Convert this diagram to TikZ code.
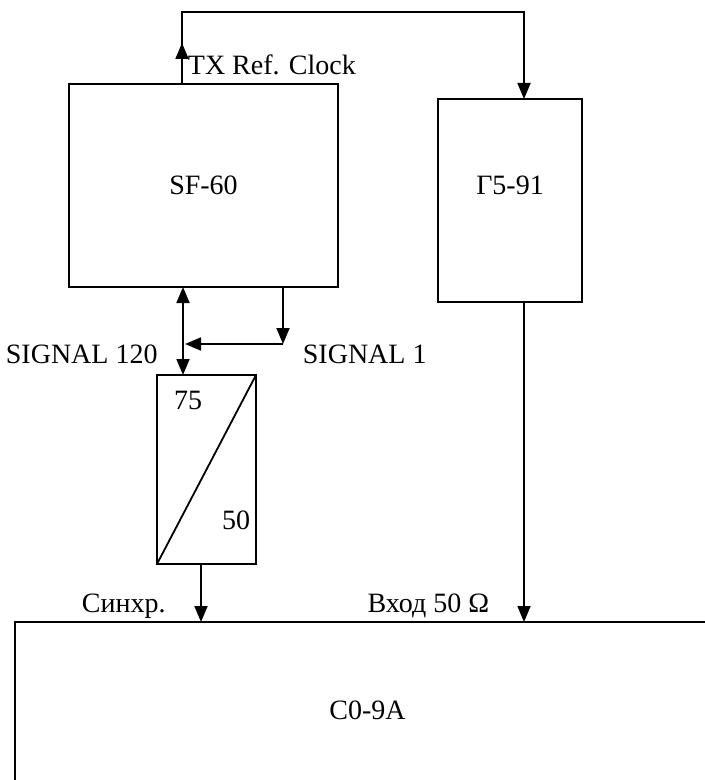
\documentclass[tikz,border=0pt]{standalone}
\usepackage{fontspec}
\setmainfont{Liberation Serif}
\usetikzlibrary{arrows.meta}
\begin{document}
\begin{tikzpicture}[x=0.5pt,y=-0.5pt,line width=0.9pt,
        font=\fontsize{14}{16}\selectfont,
        box/.style={draw,inner sep=0pt,outer sep=0pt},
        txt/.style={inner sep=0pt},
        tri/.style={-{Triangle[length=8pt,width=6.5pt]}}]
        \clip (0,0) rectangle (705,780);
        % devices
        \node[box,minimum width=134.5pt,minimum height=101.5pt] (sf) at (203.5,185.5) {SF-60};
        \node[box,minimum width=72pt,minimum height=101.5pt,label={[yshift=7.5pt]center:Г5-91}] (gen) at (510,200.5) {};
        \node[box,minimum width=49.5pt,minimum height=94.5pt] (conv) at (206.5,469.5) {};
        \draw (conv.south west) -- (conv.north east);
        \node (hi) at (188,400) {75};
        \node (lo) at (236,520) {50};
        \node[box,minimum width=352.5pt,minimum height=88pt] (osc) at (367.5,710) {C0-9A};
        % reference clock loop
        \coordinate (top) at (182,12);
        \draw[tri] ([xshift=56.5pt]sf.north west) coordinate (s0) -- ++(0,-41);
        \draw[tri] (s0) -- (top) -| ([xshift=7pt]gen.north);
        \node[txt,anchor=base west] (clk) at (187,75) {TX Ref. Clock};
        % signal outputs
        \draw[{Triangle[length=8pt,width=6.5pt]}-{Triangle[length=8pt,width=6.5pt]}]
            ([xshift=57pt]sf.south west) coordinate (s1) -- (s1 |- conv.north);
        \draw[tri] ([xshift=107pt]sf.south west) coordinate (s2) -- ++(0,57) coordinate (j);
        \draw[tri] (j) -- ([xshift=1pt]j -| s1);
        \node[txt,anchor=base west] (sig120) at (5,363) {SIGNAL 120};
        \node[txt,anchor=base west] (sig1) at (302,363) {SIGNAL 1};
        % inputs of C0-9A
        \draw[tri] ([xshift=-2.75pt]conv.south) coordinate (s3) -- (s3 |- osc.north);
        \draw[tri] ([xshift=7pt]gen.south) coordinate (s4) -- (s4 |- osc.north);
        \node[txt,anchor=base west] (sync) at (81,612) {Синхр.};
        \node[txt,anchor=base east] (inp) at (490,612) {Вход 50 Ω};
    \end{tikzpicture}
\end{document}
